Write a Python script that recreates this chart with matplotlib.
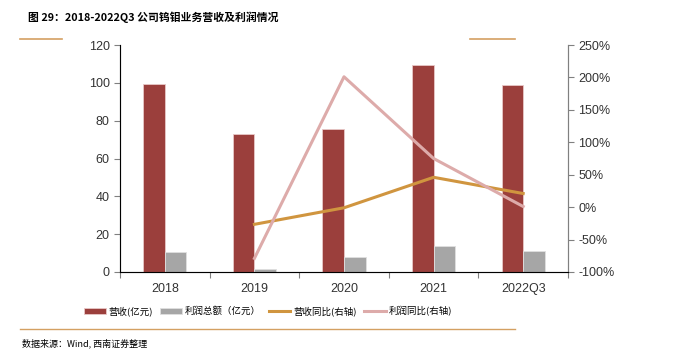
import matplotlib.pyplot as plt
import numpy as np

plt.rcParams['font.family'] = ['Liberation Sans', 'Noto Sans CJK SC', 'DejaVu Sans']

cats = ['2018', '2019', '2020', '2021', '2022Q3']
revenue = [99.2, 73.1, 75.4, 109.6, 98.7]
profit = [10.6, 1.8, 7.8, 13.6, 11.3]
rev_yoy = [np.nan, -26.5, -1.0, 46.0, 21.0]
prof_yoy = [np.nan, -79.0, 201.0, 75.0, 1.0]

c_red = '#9B3F3C'
c_grey = '#A6A6A6'
c_orange = '#D0953F'
c_pink = '#DDABAA'
c_gold = '#D4A062'

fig = plt.figure(figsize=(6.9, 3.5), dpi=100)
ax = fig.add_axes([120/690, 1-272/350, 448/690, 227/350])
x = np.arange(len(cats))
w = 0.24
ax.bar(x - w/2, revenue, w, color=c_red, edgecolor='#E8C8C8', linewidth=0.6, label='营收(亿元)')
ax.bar(x + w/2, profit, w, color=c_grey, edgecolor='#E0E0E0', linewidth=0.6, label='利润总额（亿元）')
ax.set_xlim(-0.5, len(cats) - 0.5)
ax.set_ylim(0, 120)
ax.set_yticks(range(0, 121, 20))
ax.set_xticks(np.arange(-0.5, len(cats), 1))
ax.set_xticklabels([])
ax.set_xticks(x, minor=True)
ax.set_xticklabels(cats, minor=True)
ax.tick_params(axis='x', which='minor', length=0, pad=8, labelsize=9, colors='#333333')
ax.tick_params(axis='x', which='major', length=4, color='#808080')
ax.tick_params(axis='y', length=4, color='#808080', labelsize=9, labelcolor='#333333')
ax.spines['top'].set_visible(False)
for s in ['left', 'bottom', 'right']:
    ax.spines[s].set_color('#808080')

ax2 = ax.twinx()
ax2.plot(x, rev_yoy, color=c_orange, lw=2.2, label='营收同比(右轴)')
ax2.plot(x, prof_yoy, color=c_pink, lw=2.2, label='利润同比(右轴)')
ax2.set_ylim(-100, 250)
ax2.set_yticks(range(-100, 251, 50))
ax2.set_yticklabels([f'{v}%' for v in range(-100, 251, 50)])
ax2.tick_params(axis='y', length=4, color='#808080', labelsize=9, labelcolor='#333333')
ax2.spines['top'].set_visible(False)
ax2.spines['right'].set_color('#808080')

h1, l1 = ax.get_legend_handles_labels()
h2, l2 = ax2.get_legend_handles_labels()
fig.legend(h1 + h2, l1 + l2, loc='center', bbox_to_anchor=(268/690, 1-311/350), ncol=4,
           frameon=False, handlelength=2.3, handleheight=0.6, handletextpad=0.3, columnspacing=0.8,
           prop={'family': ['Noto Sans CJK SC'], 'size': 6.8})

fig.text(28/690, 1-17/350, '图 29：2018-2022Q3 公司钨钼业务营收及利润情况', fontsize=7.8,
         fontweight='bold', va='center', ha='left', family=['Noto Sans CJK SC', 'DejaVu Sans'])
fig.add_artist(plt.Line2D([20/690, 62/690], [1-39/350, 1-39/350], color=c_gold, lw=1.2))
fig.add_artist(plt.Line2D([470/690, 515/690], [1-39/350, 1-39/350], color=c_gold, lw=1.2))
fig.add_artist(plt.Line2D([20/690, 515/690], [1-329/350, 1-329/350], color=c_gold, lw=1.0))
fig.text(22/690, 1-343/350, '数据来源：Wind, 西南证券整理', fontsize=6.5, style='italic',
         va='center', ha='left', family=['Noto Sans CJK SC', 'DejaVu Sans'])

fig.savefig('out.png', dpi=100)
